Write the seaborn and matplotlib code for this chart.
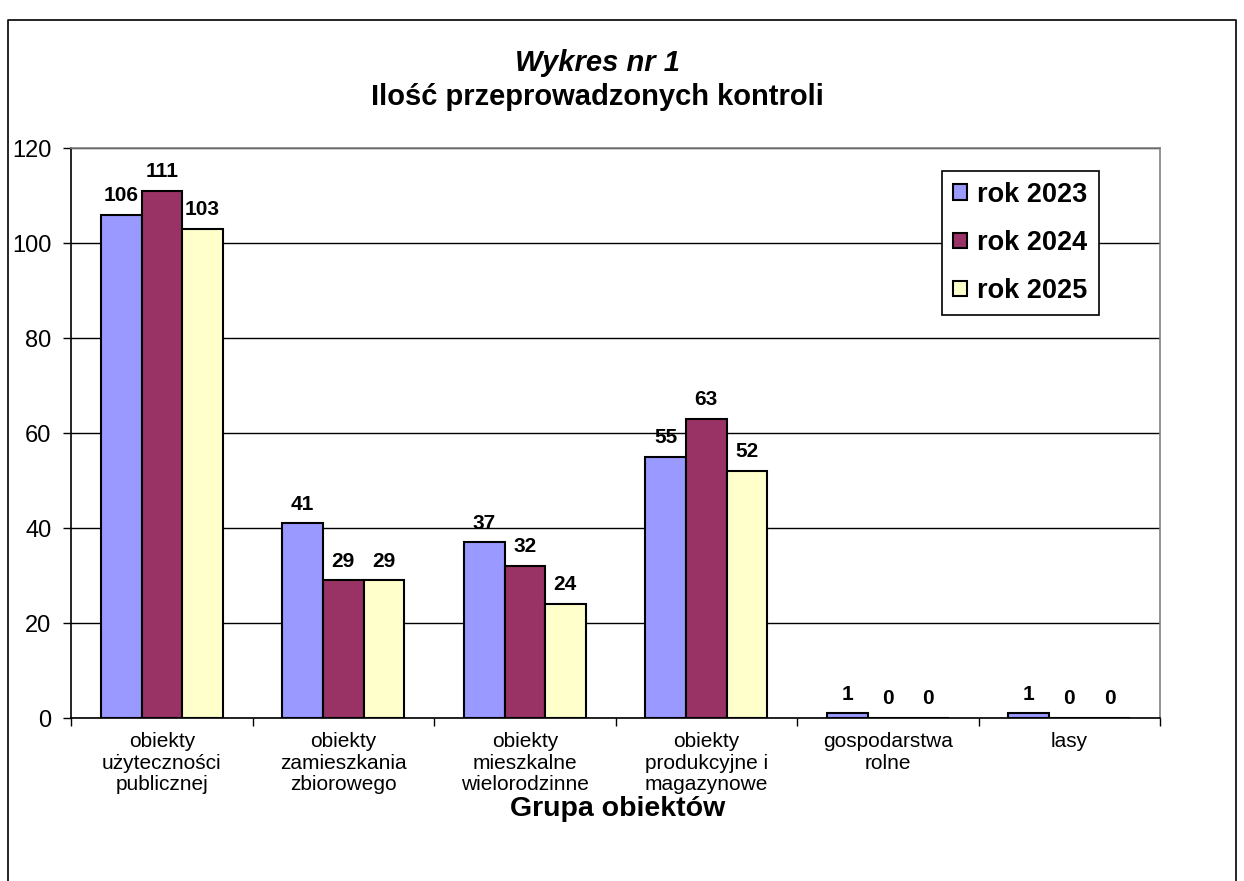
import pandas as pd
import seaborn as sns
from matplotlib import pyplot as plt
from matplotlib.lines import Line2D

# Values
categories = [
    'obiekty\nużyteczności\npublicznej',
    'obiekty\nzamieszkania\nzbiorowego',
    'obiekty\nmieszkalne\nwielorodzinne',
    'obiekty\nprodukcyjne i\nmagazynowe',
    'gospodarstwa\nrolne',
    'lasy',
]
years = ['rok 2023', 'rok 2024', 'rok 2025']
rok_2023 = [106, 41, 37, 55, 1, 1]
rok_2024 = [111, 29, 32, 63, 0, 0]
rok_2025 = [103, 29, 24, 52, 0, 0]
colors = ['#9999FF', '#993366', '#FFFFCC']

df = pd.DataFrame({
    'grupa': categories * 3,
    'rok': [y for y in years for _ in categories],
    'ilosc': rok_2023 + rok_2024 + rok_2025,
})

sns.set_theme(style='white')
plt.rcParams['font.family'] = ['Liberation Sans', 'DejaVu Sans']
for key in ['text.color', 'axes.labelcolor', 'xtick.color', 'ytick.color']:
    plt.rcParams[key] = 'black'

fig = plt.figure(figsize=(12.44, 8.81), dpi=100)
ax = fig.add_axes([0.0571, 0.185, 0.8754, 0.647])

sns.barplot(data=df, x='grupa', y='ilosc', hue='rok', hue_order=years,
            palette=colors, width=0.67, edgecolor='black', linewidth=1.5,
            saturation=1, ax=ax)

# value labels above bars
for cont in ax.containers:
    ax.bar_label(cont, padding=7, fontsize=15, fontweight='bold', color='black')

ax.set_ylim(0, 120)
ax.set_yticks(range(0, 121, 20))
ax.set_xlim(-0.5, len(categories) - 0.5)
ax.yaxis.grid(True, color='black', linewidth=1)
ax.set_axisbelow(True)

# ticks on category boundaries, labels at centers
ax.set_xticks([i - 0.5 for i in range(len(categories) + 1)])
ax.set_xticklabels([])
ax.set_xticks(range(len(categories)), minor=True)
ax.set_xticklabels(categories, minor=True, fontsize=15, linespacing=1.18)
ax.tick_params(axis='x', which='major', length=6, width=1, color='black', direction='out', bottom=True)
ax.tick_params(axis='x', which='minor', length=0, pad=10)
ax.tick_params(axis='y', length=6, width=1, color='black', direction='out', left=True, labelsize=17, pad=8)

for s in ['left', 'bottom']:
    ax.spines[s].set_color('black')
    ax.spines[s].set_linewidth(1.2)
for s in ['top', 'right']:
    ax.spines[s].set_color('#808080')
    ax.spines[s].set_linewidth(1.2)

ax.set_ylabel('')
ax.set_xlabel('Grupa obiektów', fontsize=20.5, fontweight='bold')
ax.xaxis.label.set_va('center')
ax.xaxis.set_label_coords(0.502, -0.160)

leg = ax.legend(loc='upper left', bbox_to_anchor=(0.800, 0.960),
                prop={'weight': 'bold', 'size': 19.5}, frameon=True, fancybox=False,
                framealpha=1, edgecolor='black', handlelength=0.5, handleheight=0.5,
                handletextpad=0.4, labelspacing=0.82, borderpad=0.4, borderaxespad=0)
leg.get_frame().set_linewidth(1.2)
for h in leg.legend_handles:
    h.set_edgecolor('black')
    h.set_linewidth(1.5)

fig.text(0.480, 0.928, 'Wykres nr 1', ha='center', va='center', fontsize=21,
         fontweight='bold', fontstyle='italic')
fig.text(0.480, 0.890, 'Ilość przeprowadzonych kontroli', ha='center', va='center',
         fontsize=21, fontweight='bold')

# outer chart frame (open at the bottom)
fx0, fx1, fy1 = 8 / 1244, 1236 / 1244, 1 - 20 / 881
fig.add_artist(Line2D([fx0, fx0, fx1, fx1], [0, fy1, fy1, 0], color='black',
                      linewidth=1.2, transform=fig.transFigure))

fig.savefig('out.png', dpi=100, facecolor='white')
